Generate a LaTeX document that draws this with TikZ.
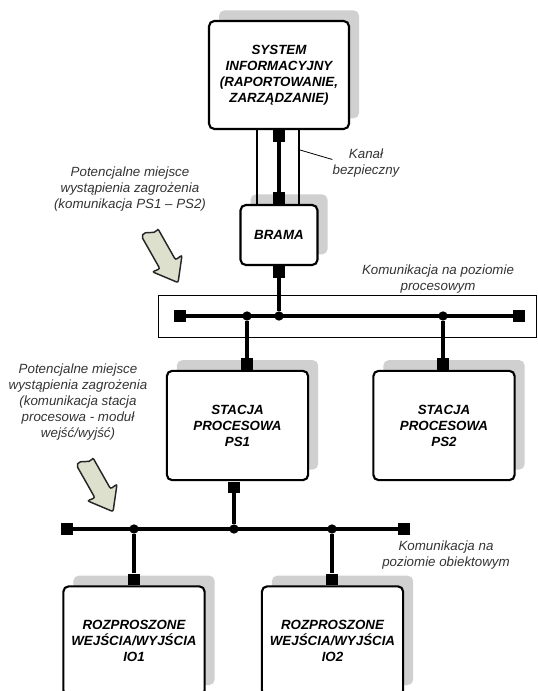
\documentclass[tikz,border=0pt]{standalone}
\usepackage{fontspec}
\setmainfont{Liberation Sans}
\usetikzlibrary{shadows}
\definecolor{cien}{RGB}{208,208,208}
\definecolor{zielonkawy}{RGB}{221,224,204}
\tikzset{
  blok/.style={draw, line width=1.6pt, rounded corners=4pt, fill=white, align=center,
    font=\bfseries\itshape, inner sep=0pt,
    drop shadow={shadow xshift=7.5pt, shadow yshift=8pt, fill=cien, opacity=1}},
  stacja/.style={blok, minimum width=106pt, minimum height=82pt},
  opis/.style={align=center, font=\itshape, text=black!80, inner sep=0pt},
  szyna/.style={line width=3.5pt},
  kanal/.style={line width=1.2pt},
  zacisk/.style={fill, minimum size=8.5pt, inner sep=0pt},
  wezel/.style={fill, circle, minimum size=7pt, inner sep=0pt},
  zagrozenie/.style={draw=black!85, line width=1.1pt, fill=zielonkawy, rounded corners=1.5pt}
}
\begin{document}
\begin{tikzpicture}[x=0.75pt,y=-0.75pt]
\clip (0,0) rectangle (537,691);
% bloki
\node[blok, minimum width=105pt, minimum height=81pt] (sys) at (279,75) {SYSTEM\\INFORMACYJNY\\(RAPORTOWANIE,\\ZARZĄDZANIE)};
\node[blok, minimum width=57.75pt, minimum height=45pt] (brama) at (279,235) {BRAMA};
\node[stacja] (ps1) at (237.5,425.5) {STACJA\\PROCESOWA\\PS1};
\node[stacja] (ps2) at (444,425.5) {STACJA\\PROCESOWA\\PS2};
\node[stacja] (io1) at (134,641) {ROZPROSZONE\\WEJŚCIA/WYJŚCIA\\IO1};
\node[stacja] (io2) at (332.5,641) {ROZPROSZONE\\WEJŚCIA/WYJŚCIA\\IO2};
% kanal bezpieczny
\node[zacisk, anchor=north] (sg) at (sys.south) {};
\node[zacisk, anchor=south] (bg) at (brama.north) {};
\draw[szyna] (sg) -- (bg);
\draw[kanal] ([xshift=-16.5pt]sys.south) -- ([xshift=-16.5pt]brama.north);
\draw[kanal] ([xshift=15pt]sys.south) -- ([xshift=15pt]brama.north);
\node[opis] (kanal) at (366,163.5) {Kanał\\bezpieczny};
\coordinate (k1) at (300,150);
\draw[line width=0.6pt] (k1) -- ([yshift=3pt]kanal.west);
% poziom procesowy
\draw[line width=0.6pt] (158,295) rectangle (536,337);
\node[zacisk] (e1) at (180,316) {};
\node[zacisk] (e2) at (519,316) {};
\node[wezel] (d1) at (247,316) {};
\node[wezel] (d2) at (279,316) {};
\node[wezel] (d3) at (443,316) {};
\draw[szyna] (e1) -- (e2);
\node[zacisk, anchor=north] (bd) at (brama.south) {};
\node[zacisk, anchor=south] (p1g) at (ps1.north -| d1) {};
\node[zacisk, anchor=south] (p2g) at (ps2.north -| d3) {};
\draw[szyna] (bd) -- (d2);
\draw[szyna] (d1) -- (p1g);
\draw[szyna] (d3) -- (p2g);
\node[opis] (kom1) at (438,279) {Komunikacja na poziomie\\procesowym};
% poziom obiektowy
\node[zacisk] (e3) at (67,529) {};
\node[zacisk] (e4) at (404,529) {};
\node[wezel] (d4) at (134,529) {};
\node[wezel] (d5) at (234,529) {};
\node[wezel] (d6) at (332,529) {};
\draw[szyna] (e3) -- (e4);
\node[zacisk, anchor=north] (p1d) at (ps1.south -| d5) {};
\node[zacisk, anchor=south] (i1g) at (io1.north -| d4) {};
\node[zacisk, anchor=south] (i2g) at (io2.north -| d6) {};
\draw[szyna] (p1d) -- (d5);
\draw[szyna] (d4) -- (i1g);
\draw[szyna] (d6) -- (i2g);
\node[opis] (kom2) at (446,555) {Komunikacja na\\poziomie obiektowym};
% zagrozenia
\node[opis] (zag1) at (130,189) {Potencjalne miejsce\\wystąpienia zagrożenia\\(komunikacja PS1 – PS2)};
\node[opis] (zag2) at (78,402) {Potencjalne miejsce\\wystąpienia zagrożenia\\(komunikacja stacja\\procesowa - moduł\\wejść/wyjść)};
\foreach \x/\y in {150/233, 85/462}
{   \draw[zagrozenie, shift={(\x,\y)}, rotate=-60.5]
      (0,-9) .. controls (4,-3) and (-5,3) .. (-1,9) -- (36,9) -- (35,17)
      -- (57,0) -- (35,-17) -- (36,-9) -- cycle;
}
\end{tikzpicture}
\end{document}
